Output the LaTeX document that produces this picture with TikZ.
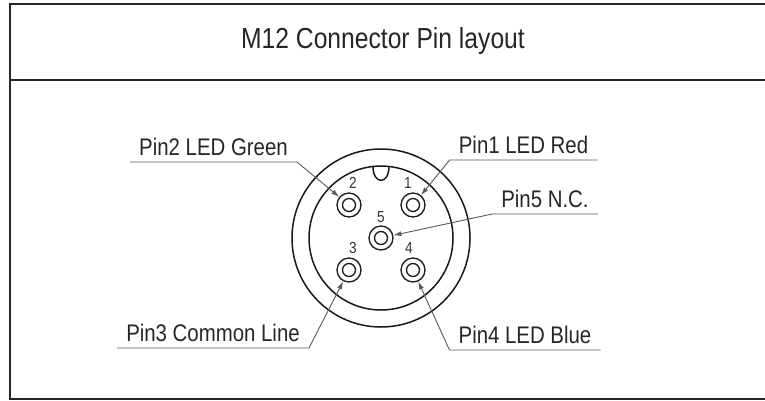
\documentclass[tikz,border=0pt]{standalone}
\usepackage{fontspec}
\setmainfont{Liberation Sans}
\newfontfamily\narrowsans[FakeStretch=0.85]{Liberation Sans}
\usepackage{tikz}
\usetikzlibrary{arrows.meta,positioning,calc}
\tikzset{
    frameline/.style={draw=black!85, line width=2.4pt},
    ring/.style={draw=black!90, line width=1.5pt},
    pinring/.style={circle, draw=black!90, line width=1.3pt, minimum size=24pt, inner sep=0pt, path picture={\draw[black!90, line width=1.3pt] (path picture bounding box.center) circle (6.5pt);}},
    pinnum/.style={inner sep=0pt, text=black!80, font=\narrowsans\fontsize{16}{16}\selectfont},
    pinlabel/.style={anchor=south, inner xsep=9pt, inner ysep=6pt, text depth=0pt, text=black!85, font=\narrowsans\fontsize{24}{24}\selectfont},
    leader/.style={draw=black!65, line width=0.9pt, -{Latex[length=8pt,width=5pt]}}
}

\begin{document}
\begin{tikzpicture}[x=1pt, y=-1pt]
    \useasboundingbox (0,0) rectangle (765,400);

    % Frame and title
    \draw [frameline] (780,4) -- (10,4) -- (10,399) -- (780,399);
    \draw [frameline] (10,80) -- (780,80);
    \node [text=black!85, font=\narrowsans\fontsize{29}{29}\selectfont] (title) at (383,41) {M12 Connector Pin layout};

    % Connector body
    \coordinate (ctr) at (381,238);
    \draw [ring] (ctr) circle (89pt);
    \draw [ring] (ctr) circle (72pt);
    \draw [ring] (373,166.4) .. controls (373,185) and (389,185) .. (389,166.4);

    % Pins
    \node [pinring] (p1) at ($(ctr)+(32,-33)$) {};
    \node [pinring] (p2) at ($(ctr)+(-32,-33)$) {};
    \node [pinring] (p3) at ($(ctr)+(-32,32)$) {};
    \node [pinring] (p4) at ($(ctr)+(32,32)$) {};
    \node [pinring] (p5) at (ctr) {};

    % Pin numbers
    \node [pinnum, above=4pt of p1, xshift=-5pt] (n1) {1};
    \node [pinnum, above=4pt of p2, xshift=4pt] (n2) {2};
    \node [pinnum, above=4pt of p3, xshift=4pt] (n3) {3};
    \node [pinnum, above=4pt of p4, xshift=-4pt] (n4) {4};
    \node [pinnum, above=3pt of p5] (n5) {5};

    % Labels
    \node [pinlabel] (lab2) at (213.5,162) {Pin2 LED Green};
    \node [pinlabel] (lab1) at (523.5,160) {Pin1 LED Red};
    \node [pinlabel] (lab5) at (545,214) {Pin5 N.C.};
    \node [pinlabel] (lab3) at (213,348) {Pin3 Common Line};
    \node [pinlabel] (lab4) at (525,350) {Pin4 LED Blue};

    % Leaders
    \draw [leader] (lab2.south west) -- (lab2.south east) -- (p2);
    \draw [leader] (lab1.south east) -- (lab1.south west) -- (p1);
    \draw [leader] (lab5.south east) -- (lab5.south west) -- (p5);
    \draw [leader] (lab3.south west) -- (lab3.south east) -- (p3);
    \draw [leader] (lab4.south east) -- (lab4.south west) -- (p4);
\end{tikzpicture}
\end{document}
